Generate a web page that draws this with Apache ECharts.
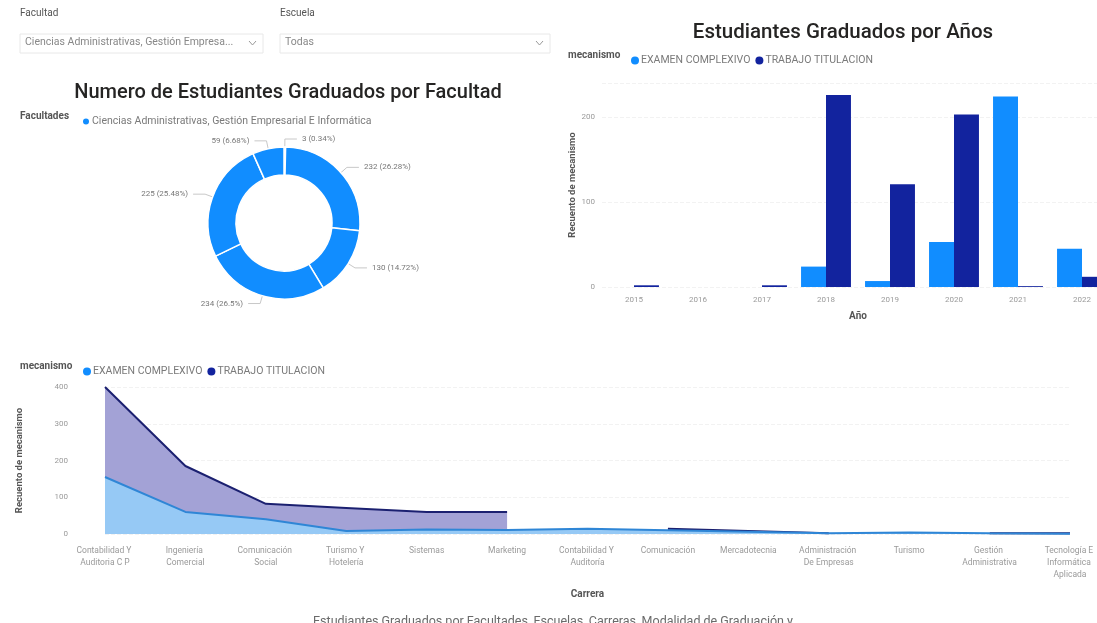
<!DOCTYPE html>
<html>
<head>
<meta charset="utf-8">
<script src="https://cdn.jsdelivr.net/npm/echarts@6/dist/echarts.min.js"></script>
<style>
  html, body { margin: 0; padding: 0; background: #ffffff; overflow: hidden; }
  /* the canvas is a little wider than the window so the year axis runs past the right edge */
  #main { width: 1130px; height: 623px; }
</style>
</head>
<body>
<div id="main"></div>
<script>
// ---- Data ----
const facultad = 'Ciencias Administrativas, Gestión Empresarial E Informática';
const pieValues = [3, 232, 130, 234, 225, 59];

const mechanisms = ['EXAMEN COMPLEXIVO', 'TRABAJO TITULACION'];

const years = ['2015', '2016', '2017', '2018', '2019', '2020', '2021', '2022'];
const examenPorAnio = [0, 0, 0, 24, 7, 53, 224, 45];
const trabajoPorAnio = [2, 0, 2, 226, 121, 203, 1, 12];

const carreras = [
  'Contabilidad Y Auditoria C P', 'Ingeniería Comercial', 'Comunicación Social',
  'Turismo Y Hotelería', 'Sistemas', 'Marketing', 'Contabilidad Y Auditoría',
  'Comunicación', 'Mercadotecnia', 'Administración De Empresas', 'Turismo',
  'Gestión Administrativa', 'Tecnología E Informática Aplicada'
];
const examenPorCarrera = [155, 60, 40, 8, 12, 11, 14, 10, 6, 2, 4, 2, 1];
const trabajoPorCarrera = [400, 185, 82, 71, 60, 60, null, 14, 8, 2, null, 2, 2];

// ---- Styling ----
const LIGHT = '#118DFF';
const DARK = '#12239E';
const FONT = 'Roboto, "Open Sans", sans-serif';
const TICK = { color: '#9a9a9a', fontSize: 8, fontFamily: FONT };
const LEGEND_TEXT = { fontSize: 10.5, color: '#7a7a7a', padding: [0, 0, 0, -3] };

const chart = echarts.init(document.getElementById('main'), null, { renderer: 'canvas' });

function slicer(x, label, boxW, value) {
  return [
    { type: 'text', left: x, top: 8, style: { text: label, fill: '#555', font: '10px ' + FONT } },
    { type: 'rect', shape: { x: x, y: 34, width: boxW, height: 19 },
      style: { fill: '#fff', stroke: '#e8e8e8', lineWidth: 1 } },
    { type: 'text', left: x + 5, top: 37, style: { text: value, fill: '#888', font: '10.5px ' + FONT } },
    { type: 'polyline', shape: { points: [[x + boxW - 14, 41], [x + boxW - 10.5, 45], [x + boxW - 7, 41]] },
      style: { stroke: '#999', lineWidth: 1, fill: null } }
  ];
}

const option = {
  backgroundColor: '#ffffff',
  animation: false,
  textStyle: { fontFamily: FONT },
  title: [
    { text: 'Numero de Estudiantes Graduados por Facultad', left: 283, top: 78, textAlign: 'center',
      textStyle: { fontSize: 20, fontWeight: 500, color: '#252423', fontFamily: FONT } },
    { text: 'Estudiantes Graduados por Años', left: 838, top: 17, textAlign: 'center',
      textStyle: { fontSize: 20.5, fontWeight: 500, color: '#252423', fontFamily: FONT } },
    { text: 'Estudiantes Graduados por Facultades, Escuelas, Carreras, Modalidad de Graduación y', left: 548, top: 610,
      textAlign: 'center', textStyle: { fontSize: 12.5, fontWeight: 'normal', color: '#6a6a6a', fontFamily: FONT } }
  ],
  graphic: [
    ...slicer(20, 'Facultad', 243, 'Ciencias Administrativas, Gestión Empresa...'),
    ...slicer(280, 'Escuela', 270, 'Todas'),
    { type: 'text', left: 20, top: 111, style: { text: 'Facultades', fill: '#555', font: 'bold 10px ' + FONT } },
    { type: 'text', left: 568, top: 50, style: { text: 'mecanismo', fill: '#555', font: 'bold 10px ' + FONT } },
    { type: 'text', left: 20, top: 361, style: { text: 'mecanismo', fill: '#555', font: 'bold 10px ' + FONT } }
  ],
  legend: [
    { data: [facultad], left: 76, top: 111, icon: 'circle', itemWidth: 8, itemHeight: 8, itemGap: 6,
      textStyle: LEGEND_TEXT },
    { data: mechanisms, left: 626, top: 50, icon: 'circle', itemWidth: 8, itemHeight: 8, itemGap: 5,
      textStyle: LEGEND_TEXT },
    { data: mechanisms, left: 78, top: 361, icon: 'circle', itemWidth: 8, itemHeight: 8, itemGap: 5,
      textStyle: LEGEND_TEXT }
  ],
  grid: [
    { left: 602, width: 512, top: 83, height: 204, containLabel: false },
    { left: 105, width: 965, top: 387, bottom: 89, containLabel: false }
  ],
  xAxis: [
    { type: 'category', gridIndex: 0, data: years,
      axisLine: { show: false }, axisTick: { show: false },
      axisLabel: Object.assign({ margin: 9 }, TICK),
      name: 'Año', nameLocation: 'middle', nameGap: 24,
      nameTextStyle: { fontSize: 10, color: '#555', fontWeight: 'bold' } },
    { type: 'category', gridIndex: 1, data: carreras, boundaryGap: false,
      axisLine: { show: false }, axisTick: { show: false },
      axisLabel: Object.assign({}, TICK, { interval: 0, margin: 11, width: 70, overflow: 'break', lineHeight: 12, fontSize: 8.5 }),
      name: 'Carrera', nameLocation: 'middle', nameGap: 55,
      nameTextStyle: { fontSize: 10, color: '#555', fontWeight: 'bold' } }
  ],
  yAxis: [
    { type: 'value', gridIndex: 0, min: 0, max: 240, interval: 100,
      axisLabel: Object.assign({ showMaxLabel: false, margin: 7 }, TICK),
      splitLine: { lineStyle: { color: '#f2f2f2', type: 'dashed' } },
      name: 'Recuento de mecanismo', nameLocation: 'middle', nameGap: 13, nameRotate: 90,
      nameTextStyle: { fontSize: 9.5, color: '#555', fontWeight: 'bold' } },
    { type: 'value', gridIndex: 1, min: 0, max: 400, interval: 100,
      axisLabel: Object.assign({ margin: 37 }, TICK),
      splitLine: { lineStyle: { color: '#f2f2f2', type: 'dashed' } },
      name: 'Recuento de mecanismo', nameLocation: 'middle', nameGap: 80, nameRotate: 90,
      nameTextStyle: { fontSize: 9.5, color: '#555', fontWeight: 'bold' } }
  ],
  series: [
    {
      type: 'pie', name: 'Facultades', center: [284, 223], radius: [48, 76],
      startAngle: 90, clockwise: true, avoidLabelOverlap: true,
      itemStyle: { color: LIGHT, borderColor: '#fff', borderWidth: 1.5 },
      label: { formatter: '{c} ({d}%)', fontSize: 8, color: '#777' },
      labelLine: { length: 8, length2: 12, lineStyle: { color: '#c8c8c8', width: 1 } },
      data: pieValues.map(v => ({ name: facultad, value: v }))
    },
    {
      type: 'bar', name: mechanisms[0], xAxisIndex: 0, yAxisIndex: 0,
      data: examenPorAnio, itemStyle: { color: LIGHT }, barGap: '0%', barCategoryGap: '22%'
    },
    {
      type: 'bar', name: mechanisms[1], xAxisIndex: 0, yAxisIndex: 0,
      data: trabajoPorAnio, itemStyle: { color: DARK }, barGap: '0%', barCategoryGap: '22%'
    },
    {
      type: 'line', name: mechanisms[1], xAxisIndex: 1, yAxisIndex: 1,
      data: trabajoPorCarrera, symbol: 'none', connectNulls: false,
      itemStyle: { color: DARK },
      lineStyle: { color: '#1b2070', width: 2 },
      areaStyle: { color: '#a3a2d6', opacity: 1 }, z: 2
    },
    {
      type: 'line', name: mechanisms[0], xAxisIndex: 1, yAxisIndex: 1,
      data: examenPorCarrera, symbol: 'none',
      itemStyle: { color: LIGHT },
      lineStyle: { color: '#2f86d6', width: 2 },
      areaStyle: { color: '#96c9f5', opacity: 1 }, z: 3
    }
  ]
};

chart.setOption(option);
</script>
</body>
</html>
